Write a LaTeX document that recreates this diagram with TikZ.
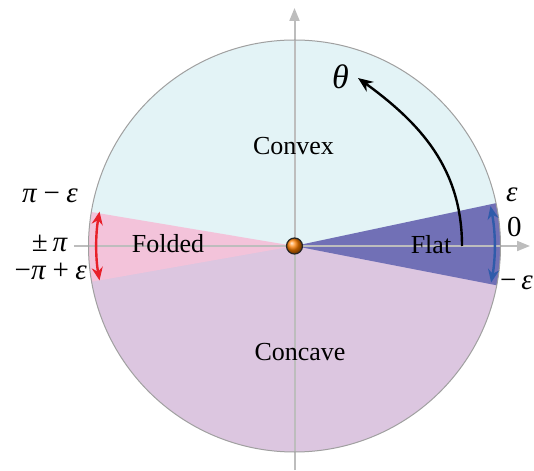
\documentclass[tikz,border=0pt]{standalone}
\usepackage{fontspec}
\setmainfont{Liberation Serif}
\usetikzlibrary{arrows.meta}
\definecolor{cyancol}{HTML}{E3F3F6}
\definecolor{lilaccol}{HTML}{DCC6E0}
\definecolor{flatcol}{HTML}{7170B6}
\definecolor{foldcol}{HTML}{F3C3DA}
\definecolor{redcol}{HTML}{E8202A}
\definecolor{bluecol}{HTML}{2F5BAA}
\definecolor{axiscol}{HTML}{BDBDBD}
\definecolor{rimcol}{HTML}{A0A0A0}
\newcommand{\opsp}{\hspace{0.22em}}
\begin{document}
\begin{tikzpicture}[x=1pt,y=1pt,
  lbl/.style={font=\fontsize{26}{30}\selectfont, inner sep=0pt},
  mlbl/.style={font=\fontsize{29}{33}\selectfont, inner sep=0pt},
  axisline/.style={axiscol, line width=2pt, -{Triangle[length=13pt,width=10pt]}},
  dblarrow/.style={line width=2.4pt, {Stealth[length=13pt,width=11pt]}-{Stealth[length=13pt,width=11pt]}}]
\useasboundingbox (-294.5,-224) rectangle (239.5,246);
\def\R{206}
% regions
\fill[cyancol] (\R,0) arc[start angle=0,end angle=180,radius=\R] -- cycle;
\fill[lilaccol] (-\R,0) arc[start angle=180,end angle=360,radius=\R] -- cycle;
\fill[flatcol] (0,0) -- (-11:\R) arc[start angle=-11,end angle=12,radius=\R] -- cycle;
\fill[foldcol] (0,0) -- (170.5:\R) arc[start angle=170.5,end angle=190,radius=\R] -- cycle;
% axes
\coordinate (xl) at (-220.5,0);
\coordinate (xr) at (235.5,0);
\coordinate (yb) at (0,-224);
\coordinate (yt) at (0,238);
\draw[axisline] (xl) -- (xr);
\draw[axisline] (yb) -- (yt);
% rim
\draw[rimcol, line width=1pt] (0,0) circle[radius=\R];
% double arrows
\draw[dblarrow, redcol] (170:198) arc[start angle=170,end angle=190,radius=198];
\draw[dblarrow, bluecol] (-10.5:200) arc[start angle=-10.5,end angle=11.5,radius=200];
% theta arrow
\coordinate (ts) at (167.5,0);
\coordinate (te) at (63.5,168);
\draw[line width=2.4pt, -{Stealth[length=15pt,width=12pt]}] (ts) to[out=90,in=-36] (te);
\node[font=\fontsize{34}{38}\selectfont\itshape, inner sep=0pt, anchor=base] (theta) at (46,157) {θ};
% region labels
\node[lbl, anchor=base] (convex) at (-1,91) {Convex};
\node[lbl, anchor=base] (concave) at (5.5,-114) {Concave};
\node[lbl, anchor=base] (folded) at (-126.5,-7) {Folded};
\node[lbl, anchor=base] (flat) at (136.5,-8) {Flat};
% angle labels
\node[mlbl, anchor=base east] (pme) at (-216.5,43) {\textit{π}\opsp−\opsp\textit{ε}};
\node[mlbl, anchor=base east] (ppi) at (-226.5,-6) {±\,\textit{π}};
\node[mlbl, anchor=base east] (mpe) at (-207.5,-34) {−\textit{π}\opsp+\opsp\textit{ε}};
\node[mlbl, anchor=base west] (eps) at (211.5,44) {\textit{ε}};
\node[mlbl, anchor=base west] (zero) at (212.5,9) {0};
\node[mlbl, anchor=base west] (meps) at (205.5,-44) {−\,\textit{ε}};
% ball
\shade[ball color=orange] (0,0) circle[radius=8];
\draw[black!85, line width=1.2pt] (0,0) circle[radius=8];
\node[inner sep=0pt, minimum size=16pt] (ball) at (0,0) {};
\end{tikzpicture}
\end{document}
